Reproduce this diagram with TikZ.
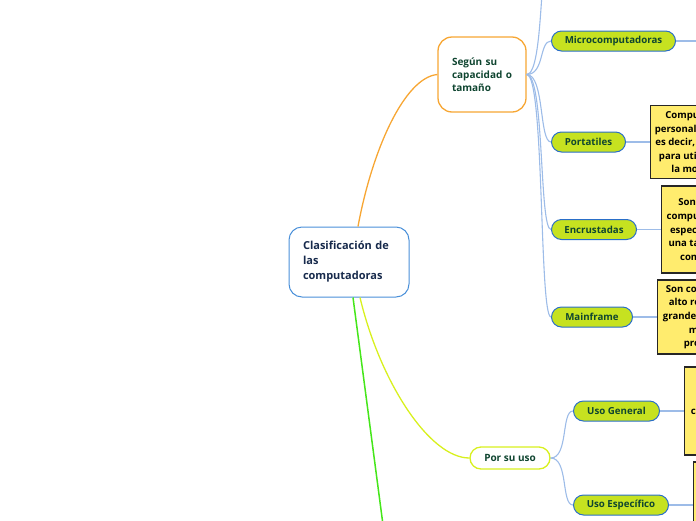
\documentclass[tikz,border=0pt]{standalone}
\usepackage{fontspec}
\setmainfont{Open Sans}
\usepackage{tikz}
\usetikzlibrary{positioning}
\definecolor{rootblue}{HTML}{4A90D9}
\definecolor{rootink}{HTML}{172A4C}
\definecolor{leafink}{HTML}{0F4530}
\definecolor{sizeorange}{HTML}{F7A633}
\definecolor{useyellow}{HTML}{D8F01E}
\definecolor{downgreen}{HTML}{45E61A}
\definecolor{leaffill}{HTML}{C6E220}
\definecolor{leafblue}{HTML}{2A6EC8}
\definecolor{linkblue}{HTML}{9DBCE8}
\definecolor{notefill}{HTML}{FFEC6E}
\tikzstyle{root}=[draw=rootblue,line width=1pt,fill=white,rounded corners=13pt,text=rootink,
                  font=\fontsize{11}{15}\selectfont\bfseries,align=left,text width=92pt,
                  inner xsep=14pt,minimum height=70pt]
\tikzstyle{topic}=[line width=1.3pt,fill=white,rounded corners=14pt,text=leafink,
                   font=\fontsize{10}{13.2}\selectfont\bfseries,align=left]
\tikzstyle{leaf}=[draw=leafblue,line width=1pt,fill=leaffill,rounded corners=10pt,text=leafink,
                  font=\fontsize{9.7}{12}\selectfont\bfseries,minimum height=20pt,inner xsep=5pt,anchor=west]
\tikzstyle{note}=[draw=black!85,line width=1.3pt,fill=notefill,align=center,
                  font=\fontsize{9.6}{13.6}\selectfont\bfseries,inner sep=4pt]
\tikzstyle{link}=[linkblue,line width=1.1pt]

\begin{document}
\begin{tikzpicture}[x=1pt,y=-1pt]
  \def\gap{24pt} % leaf to note
  \useasboundingbox (0,0) rectangle (696,520);

  % TOPICS
  \node[root] (root) at (349,262) {Clasificación de\\las\\computadoras};
  \node[topic,draw=sizeorange,minimum width=88pt,minimum height=75pt,text width=60pt,inner xsep=14pt]
    (size) at (482,74.5) {Según su\\capacidad o\\tamaño};
  \node[topic,draw=useyellow,rounded corners=11pt,minimum width=80pt,minimum height=22pt,align=center]
    (uso) at (510,458) {Por su uso};
  \coordinate (down) at (385,540);

  % LEAVES
  \node[leaf,minimum width=124pt] (micro) at (551,41) {Microcomputadoras};
  \node[leaf,minimum width=74pt] (port) at (551,142) {Portatiles};
  \node[leaf,minimum width=85pt] (encr) at (551,229.5) {Encrustadas};
  \node[leaf,minimum width=81pt] (mainf) at (551,317) {Mainframe};
  \node[leaf,minimum width=86pt] (general) at (573,411) {Uso General};
  \node[leaf,minimum width=95pt] (especif) at (573,505) {Uso Específico};
  \coordinate (up) at (551,-60);
  \coordinate (mout) at (705,41);

  % NOTES
  \node[note,right=\gap of port,minimum height=73pt,minimum width=100pt] (nport)
    {Computadoras\\personales móviles\\es decir, diseñadas\\para utilizarse en\\la movilidad};
  \node[note,right=\gap of encr,minimum height=87pt,minimum width=100pt] (nencr)
    {Son pequeñas\\computadoras que\\especializadas en\\una tarea precisa,\\como control};
  \node[note,right=\gap of mainf,minimum height=74pt,minimum width=106pt] (nmainf)
    {Son computadoras\\alto rendimiento,\\grandes en tamaño,\\memoria\\procesador};
  \node[note,right=\gap of general,minimum height=88pt,minimum width=116pt] (ngeneral)
    {Pueden realizar\\muchas tareas\\como cálculos, juegos\\y trabajos\\de oficina};
  \node[note,right=\gap of especif,minimum height=86pt,minimum width=110pt] (nespecif)
    {Diseñadas para\\una sola tarea};

  % CONNECTORS
  \draw[sizeorange,line width=1.3pt] ([xshift=9pt]root.north) .. controls +(14,-76) and +(-33,3) .. (size.west);
  \draw[useyellow,line width=1.3pt] ([xshift=11pt]root.south) .. controls +(20,84) and +(-40,0) .. (uso.west);
  \draw[downgreen,line width=1.5pt] ([xshift=4pt]root.south) -- (down);
  \draw[link] (size.east) .. controls +(18,0) and +(-12,0) .. (up);
  \foreach \c in {micro,port,encr,mainf}
    \draw[link] (size.east) .. controls +(18,0) and +(-12,0) .. (\c.west);
  \foreach \c in {general,especif}
    \draw[link] (uso.east) .. controls +(18,0) and +(-12,0) .. (\c.west);
  \draw[link] (micro.east) -- (mout);
  \foreach \c/\n in {port/nport,encr/nencr,mainf/nmainf,general/ngeneral,especif/nespecif}
    \draw[link] (\c.east) -- (\n.west);

\end{tikzpicture}
\end{document}
